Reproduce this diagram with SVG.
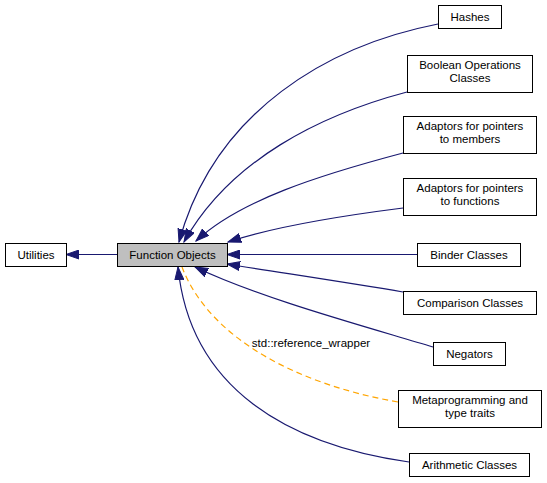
<svg xmlns="http://www.w3.org/2000/svg" width="547" height="483" viewBox="0 0 547 483">
<defs>
<marker id="ah" markerUnits="userSpaceOnUse" markerWidth="14" markerHeight="10" refX="13" refY="5" orient="auto" viewBox="0 0 14 10">
<path d="M0,0.5 L13,5 L0,9.5 Z" fill="#191970" stroke="#191970" stroke-width="1"/>
</marker>
</defs>
<style>
.n rect{fill:#fff;stroke:#000;stroke-width:1}
.n text{font-family:"Liberation Sans",Arial,sans-serif;font-size:11.5px;text-anchor:middle;fill:#000}
.e{fill:none;stroke:#191970;stroke-width:1.2}
.ea{marker-end:url(#ah)}
.o{fill:none;stroke:#ffa500;stroke-width:1.2;stroke-dasharray:6,4}
.lbl{font-family:"Liberation Sans",Arial,sans-serif;font-size:11.5px;text-anchor:middle;fill:#000}
</style>
<rect width="547" height="483" fill="#fff"/>
<g id="connectors">
<path class="e ea" d="M117,254.5 L66,254.5"/>
<path class="e ea" d="M438,24 C330,45 215,110 179,242"/>
<path class="e ea" d="M407,92 C320,115 230,160 184,242"/>
<path class="e ea" d="M403,153 C320,175 240,200 196,241"/>
<path class="e ea" d="M403,208 C340,216 270,228 228,242"/>
<path class="e ea" d="M417,254.5 L227,254.5"/>
<path class="e ea" d="M403,292 C350,283 270,271 227,264"/>
<path class="e ea" d="M433,347 C360,325 260,298 195,267"/>
<path class="o" d="M398,402 C300,385 210,340 182,267"/>
<text class="lbl" x="311" y="347">std::reference_wrapper</text>
<path class="e ea" d="M409,462 C290,445 190,390 178,267"/>
</g>
<g id="node-utilities" class="n"><rect x="5.5" y="243.5" width="61" height="23"/><text x="36" y="259">Utilities</text></g>
<g id="node-function-objects" class="n"><rect x="117.5" y="243.5" width="110" height="23" style="fill:#bfbfbf"/><text x="172.5" y="259">Function Objects</text></g>
<g id="node-hashes" class="n"><rect x="438.5" y="5.5" width="63" height="23"/><text x="470" y="21">Hashes</text></g>
<g id="node-boolean" class="n"><rect x="407.5" y="55.5" width="125" height="37"/><text x="470" y="69">Boolean Operations</text><text x="470" y="82">Classes</text></g>
<g id="node-adaptors-members" class="n"><rect x="403.5" y="116.5" width="133" height="37"/><text x="470" y="130">Adaptors for pointers</text><text x="470" y="143">to members</text></g>
<g id="node-adaptors-functions" class="n"><rect x="403.5" y="178.5" width="133" height="37"/><text x="470" y="192">Adaptors for pointers</text><text x="470" y="205">to functions</text></g>
<g id="node-binder" class="n"><rect x="417.5" y="243.5" width="103" height="23"/><text x="469" y="259">Binder Classes</text></g>
<g id="node-comparison" class="n"><rect x="403.5" y="291.5" width="133" height="23"/><text x="470" y="307">Comparison Classes</text></g>
<g id="node-negators" class="n"><rect x="433.5" y="342.5" width="72" height="23"/><text x="469.5" y="358">Negators</text></g>
<g id="node-metaprogramming" class="n"><rect x="398.5" y="390.5" width="143" height="37"/><text x="470" y="404">Metaprogramming and</text><text x="470" y="417">type traits</text></g>
<g id="node-arithmetic" class="n"><rect x="409.5" y="453.5" width="120" height="23"/><text x="469.5" y="469">Arithmetic Classes</text></g>
</svg>
